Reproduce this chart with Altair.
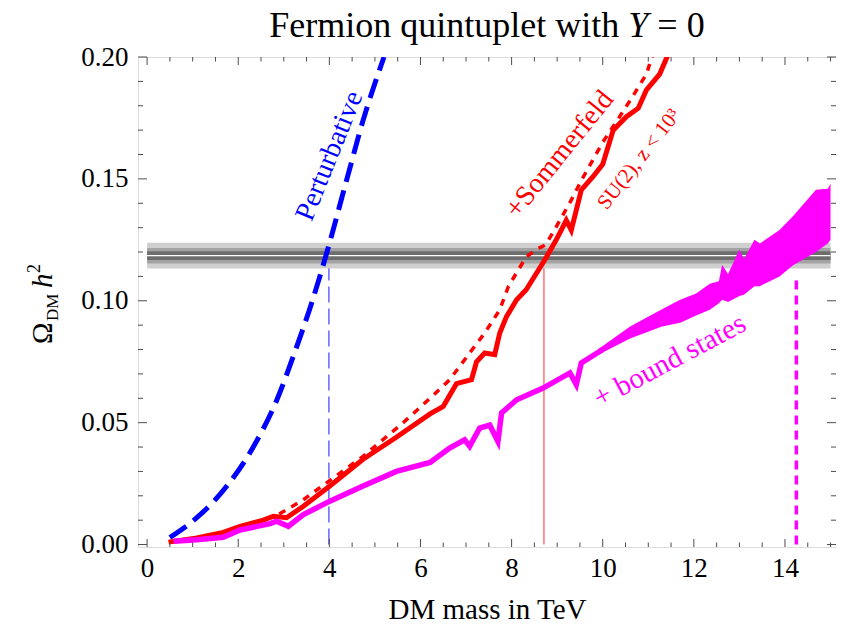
import altair as alt
import pandas as pd

# ---------------- data ----------------
pert_x = [0.50, 1.09, 1.75, 2.33, 2.84, 3.28, 3.61, 3.94, 4.38, 4.74, 5.20]
pert_y = [0.0029, 0.011, 0.024, 0.040, 0.059, 0.081, 0.099, 0.1195, 0.1496, 0.174, 0.200]

som_x = [0.47, 1.09, 1.67, 2.04, 2.55, 2.77, 3.06, 3.43, 4.01, 4.74, 5.47, 6.21, 6.50, 6.79,
         7.12, 7.23, 7.41, 7.63, 7.74, 7.89, 8.11, 8.32, 8.73, 8.98, 9.20, 9.31, 9.53, 9.79,
         10.0, 10.23, 10.52, 10.78, 10.96, 11.25, 11.43]
som_y = [0.001, 0.0027, 0.005, 0.0075, 0.010, 0.0116, 0.011, 0.0157, 0.024, 0.035, 0.044, 0.0536,
         0.0567, 0.066, 0.0676, 0.075, 0.0786, 0.0779, 0.0868, 0.0936, 0.1004, 0.1045, 0.1168,
         0.125, 0.133, 0.129, 0.1455, 0.151, 0.156, 0.170, 0.1755, 0.179, 0.1865, 0.193, 0.2008]

su2_x = [2.90, 3.43, 4.74, 5.62, 6.21, 6.64, 7.08, 7.41, 7.74, 7.93, 8.32, 8.54, 8.75, 9.0,
         9.3, 9.55, 9.79, 10.0, 10.37, 10.63, 10.96, 11.07, 11.15]
su2_y = [0.0125, 0.0184, 0.0362, 0.050, 0.060, 0.0676, 0.0786, 0.0868, 0.0963, 0.1059, 0.118,
         0.121, 0.123, 0.131, 0.141, 0.150, 0.158, 0.165, 0.1755, 0.183, 0.193, 0.1995, 0.203]

bs_x = [0.58, 1.09, 1.67, 2.04, 2.70, 2.84, 3.10, 3.43, 4.01, 4.74, 5.47, 6.21, 6.64, 6.97,
        7.08, 7.30, 7.52, 7.70, 7.78, 8.11, 8.69, 9.28, 9.42, 9.53, 10.0]
bs_y = [0.0014, 0.002, 0.003, 0.006, 0.0086, 0.0096, 0.0075, 0.0123, 0.0178, 0.024, 0.030,
        0.0337, 0.0396, 0.043, 0.0403, 0.0478, 0.049, 0.0423, 0.054, 0.0594, 0.0642, 0.0704,
        0.0656, 0.0745, 0.080]

bsband_x = [9.9, 10.0, 10.6, 11.3, 11.7, 12.05, 12.35, 12.55, 12.62, 12.75, 13.0, 13.1, 13.33,
            13.45, 13.88, 14.17, 14.68, 14.94, 15.0]
bsband_lo = [0.0778, 0.0788, 0.0845, 0.0895, 0.091, 0.094, 0.0963, 0.099, 0.1004, 0.0995, 0.102,
             0.1025, 0.106, 0.106, 0.110, 0.1145, 0.120, 0.1235, 0.125]
bsband_hi = [0.0802, 0.0815, 0.0895, 0.0965, 0.1004, 0.103, 0.107, 0.108, 0.1148, 0.111, 0.121,
             0.117, 0.125, 0.1235, 0.129, 0.1346, 0.1455, 0.146, 0.148]

# Planck band (centre and half-widths)
omega_c = 0.1185
band_half = [0.0053, 0.0032, 0.0018]
band_col = ["#cfcfcf", "#a3a3a3", "#6e6e6e"]

vlines = pd.DataFrame({
    "x": [3.99, 8.71, 14.25],
    "y0": [0.0, 0.0, 0.0],
    "y1": [0.118, 0.118, 0.11],
})

x_major = [0, 2, 4, 6, 8, 10, 12, 14]
x_minor = [v / 2 for v in range(1, 31) if (v / 2) not in x_major]
y_major = [0.0, 0.05, 0.10, 0.15, 0.20]
y_minor = [round(v * 0.01, 2) for v in range(1, 20) if v % 5 != 0]

labels = [
    ("Perturbative", 4.01, 0.1594, 292, 28, "#0000ff"),
    ("+Sommerfeld", 9.06, 0.160, 309, 28, "#ff0000"),
    ("SU(2), z < 10³", 10.80, 0.158, 308, 21, "#ff0000"),
    ("+ bound states", 11.47, 0.0754, 332, 29, "#ff00ff"),
]

# ---------------- layout ----------------
W, H = 698, 490
FONT = "Liberation Serif"
FRAME = "#4d4d4d"
xs = alt.Scale(domain=[-0.2, 15.12], nice=False, zero=False)
ys = alt.Scale(domain=[-0.001, 0.2], nice=False, zero=False)

x_axis = alt.Axis(
    values=x_major, format="d", title="DM mass in TeV", ticks=False, domain=False,
    grid=False, labelFont=FONT, labelFontSize=27, labelColor="black", labelPadding=8,
    titleFont=FONT, titleFontSize=29, titleFontWeight="normal", titleColor="black",
    titlePadding=14)
y_axis = alt.Axis(
    values=y_major, format=".2f", title=None, ticks=False, domain=False, grid=False,
    labelFont=FONT, labelFontSize=27, labelColor="black", labelPadding=10)


def X(f):
    return alt.X(f, type="quantitative", scale=xs, axis=x_axis)


def Y(f):
    return alt.Y(f, type="quantitative", scale=ys, axis=y_axis)


layers = []

# thin vertical marker lines
vcols = ["#4040ff", "#ff5050", "#ff00ff"]
vdash = [[16, 6], [1, 0], [9, 6]]
vwidth = [1.2, 1.2, 3.5]
for i in range(3):
    layers.append(
        alt.Chart(vlines.iloc[[i]]).mark_rule(color=vcols[i], strokeWidth=vwidth[i],
                                              strokeDash=vdash[i]).encode(
            x=X("x"), y=Y("y0"), y2="y1")
    )

# Planck band
for hw, col in zip(band_half, band_col):
    bdf = pd.DataFrame({"x0": [0.0], "x1": [15.0], "lo": [omega_c - hw], "hi": [omega_c + hw]})
    layers.append(alt.Chart(bdf).mark_rect(color=col).encode(
        x=X("x0"), x2="x1", y=Y("lo"), y2="hi"))
cdf = pd.DataFrame({"x0": [0.0], "x1": [15.0], "c": [omega_c]})
layers.append(alt.Chart(cdf).mark_rule(color="white", strokeWidth=1.3).encode(
    x=X("x0"), x2="x1", y=Y("c")))

# perturbative
pdf = pd.DataFrame({"x": pert_x, "y": pert_y})
layers.append(alt.Chart(pdf).mark_line(color="#0000ff", strokeWidth=5, strokeDash=[20, 9],
                                       interpolate="monotone", clip=True).encode(
    x=X("x"), y=Y("y"), order="x:Q"))

# SU(2) dotted
sdf = pd.DataFrame({"x": su2_x, "y": su2_y})
layers.append(alt.Chart(sdf).mark_line(color="#ff0000", strokeWidth=3.5, strokeDash=[7, 7],
                                       clip=True).encode(x=X("x"), y=Y("y"), order="x:Q"))

# Sommerfeld
mdf = pd.DataFrame({"x": som_x, "y": som_y})
layers.append(alt.Chart(mdf).mark_line(color="#ff0000", strokeWidth=5, clip=True).encode(
    x=X("x"), y=Y("y"), order="x:Q"))

# bound states
bdf2 = pd.DataFrame({"x": bs_x, "y": bs_y})
layers.append(alt.Chart(bdf2).mark_line(color="#ff00ff", strokeWidth=5.5, clip=True).encode(
    x=X("x"), y=Y("y"), order="x:Q"))
adf = pd.DataFrame({"x": bsband_x, "lo": bsband_lo, "hi": bsband_hi})
layers.append(alt.Chart(adf).mark_area(color="#ff00ff", opacity=1, clip=True).encode(
    x=X("x"), y=alt.Y("lo:Q", scale=ys, axis=y_axis, stack=None), y2=alt.Y2("hi")))

# curve labels
for txt, lx, ly, ang, fs, col in labels:
    ldf = pd.DataFrame({"x": [lx], "y": [ly], "t": [txt]})
    layers.append(alt.Chart(ldf).mark_text(font=FONT, fontSize=fs, color=col, angle=ang,
                                           align="center", baseline="middle").encode(
        x=X("x"), y=Y("y"), text="t:N"))


# inward ticks on all four sides
def tick_layers(vals, length, axis):
    df = pd.DataFrame({"v": vals})
    ch = alt.Chart(df)
    out = []
    if axis == "x":
        out.append(ch.mark_rule(color=FRAME, strokeWidth=1).encode(
            x=X("v"), y=alt.value(H), y2=alt.value(H - length)))
        out.append(ch.mark_rule(color=FRAME, strokeWidth=1).encode(
            x=X("v"), y=alt.value(0), y2=alt.value(length)))
    else:
        out.append(ch.mark_rule(color=FRAME, strokeWidth=1).encode(
            y=Y("v"), x=alt.value(0), x2=alt.value(length)))
        out.append(ch.mark_rule(color=FRAME, strokeWidth=1).encode(
            y=Y("v"), x=alt.value(W), x2=alt.value(W - length)))
    return out


layers += tick_layers(x_major, 8, "x")
layers += tick_layers(x_minor, 4.5, "x")
layers += tick_layers(y_major, 9, "y")
layers += tick_layers(y_minor, 5, "y")

# title with italic Y (pixel layout relative to plot area)
TFS = 36
w1 = 9.973 * TFS  # "Fermion quintuplet with " in Times metrics
wY = 0.556 * TFS
wsp = 0.25 * TFS
total = 12.093 * TFS
t0 = W / 2 - total / 2
tdf = pd.DataFrame({
    "t": ["Fermion quintuplet with", "Y", "= 0"],
    "px": [t0, t0 + w1, t0 + w1 + wY + wsp],
    "style": ["normal", "italic", "normal"],
})
for i in range(3):
    r = tdf.iloc[i]
    layers.append(alt.Chart(tdf.iloc[[i]]).mark_text(
        font=FONT, fontSize=TFS, fontStyle=r["style"], color="black", align="left",
        baseline="alphabetic").encode(text="t:N", x=alt.value(float(r["px"])), y=alt.value(-20)))

# y-axis title  Ω_DM h^2 (rotated)
ytdf = pd.DataFrame({
    "t": ["Ω", "DM", "h", "2"],
    "fs": [29, 17, 29, 18],
    "st": ["normal", "normal", "italic", "normal"],
    "px": [-86, -80, -86, -98],
    "py": [287, 264, 231, 216],
})
for i in range(4):
    r = ytdf.iloc[i]
    layers.append(alt.Chart(ytdf.iloc[[i]]).mark_text(
        font=FONT, fontSize=int(r["fs"]), fontStyle=r["st"], color="black", align="left",
        baseline="alphabetic", angle=270).encode(
        text="t:N", x=alt.value(float(r["px"])), y=alt.value(float(r["py"]))))

chart = alt.layer(*layers).properties(
    width=W, height=H,
    autosize=alt.AutoSizeParams(type="none"),
    padding={"left": 130, "top": 49, "right": 0, "bottom": 76},
).configure_view(stroke=FRAME, strokeWidth=1.2).configure(background="white")

chart.save("out.html", embed_options={"renderer": "svg", "actions": False})
